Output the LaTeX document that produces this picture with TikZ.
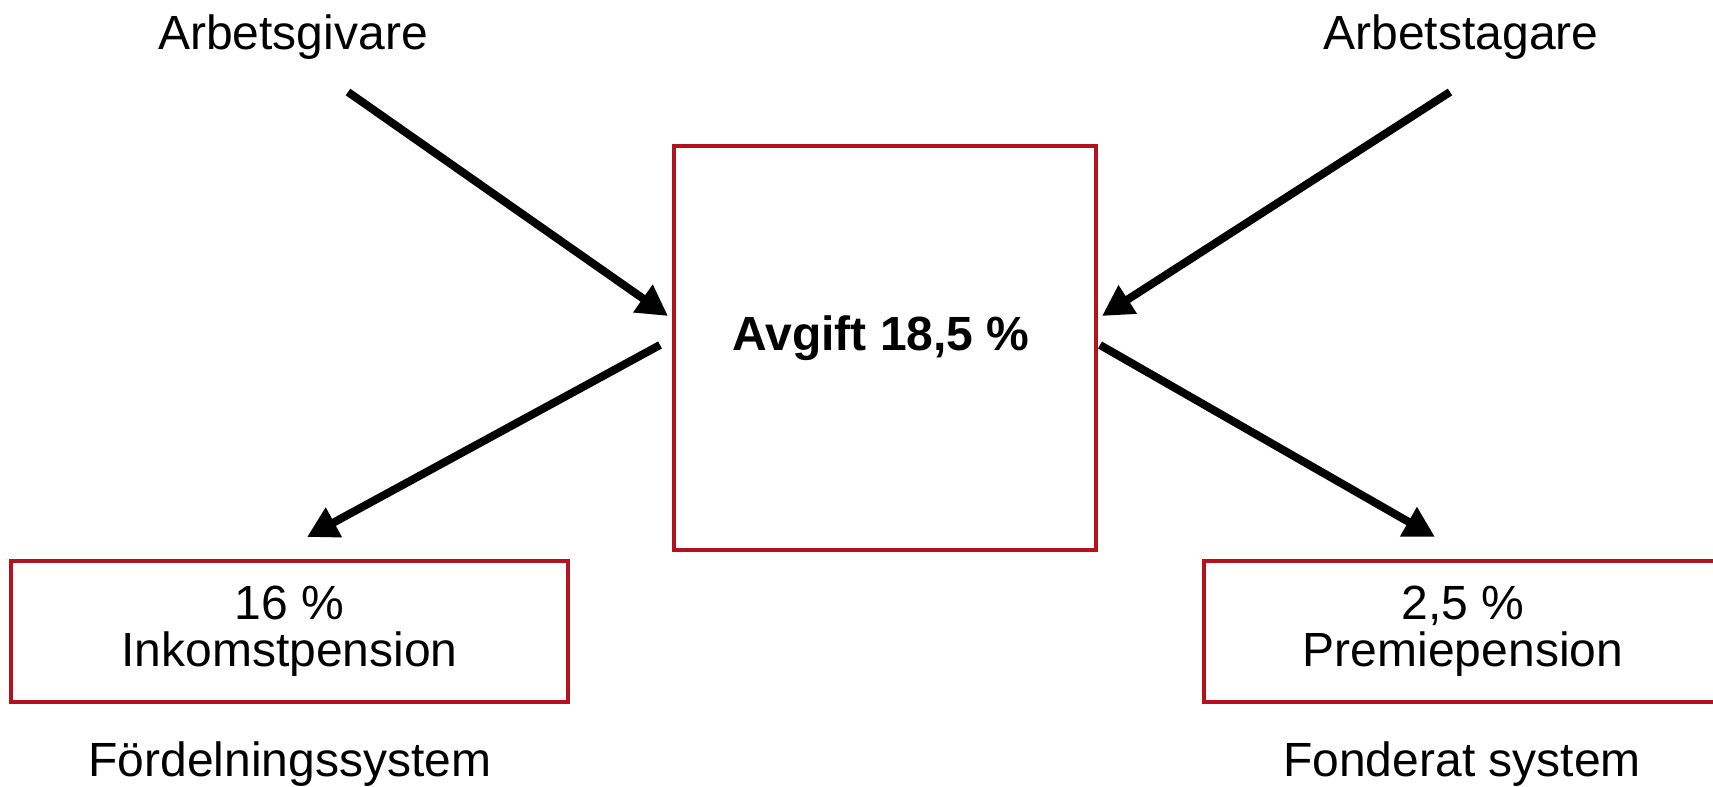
\documentclass[tikz,border=0pt]{standalone}
\usepackage{fontspec}
\setmainfont{Liberation Sans}
\usetikzlibrary{arrows.meta}
\definecolor{boxred}{RGB}{180,18,30}
\begin{document}
\begin{tikzpicture}[x=0.75pt,y=-0.75pt,
  txt/.style={font=\fontsize{36pt}{35pt}\selectfont},
  lbl/.style={txt, inner sep=0pt, anchor=base},
  redbox/.style={draw=boxred, line width=3pt, inner sep=0pt, align=center, txt},
  flow/.style={line width=6pt, -{Triangle[length=23pt,width=24pt]}}]
\useasboundingbox (0,0) rectangle (1713,786);
% boxes
\node[redbox, minimum width=316.5pt, minimum height=303pt] (mid) at (885,348) {};
\node[lbl, font=\fontsize{36pt}{35pt}\selectfont\bfseries] (midtext) at (881,350) {Avgift 18,5 \%};
\node[redbox, minimum width=417.75pt, minimum height=105.75pt] (inkomst) at (289.5,631.5) {16 \%\\Inkomstpension};
\node[redbox, minimum width=388.5pt, minimum height=105.75pt] (premie) at (1463,631.5) {2,5 \%\\Premiepension};
% labels
\node[lbl] (givare) at (293,49) {Arbetsgivare};
\node[lbl] (tagare) at (1461,49) {Arbetstagare};
\node[lbl] (ford) at (290,776) {Fördelningssystem};
\node[lbl] (fond) at (1462,776) {Fonderat system};
% connector ends
\coordinate (t1) at (348,92);
\coordinate (h1) at (668,316);
\coordinate (t2) at (1450,92);
\coordinate (h2) at (1102,316);
\coordinate (t3) at (660,345);
\coordinate (h3) at (307,537);
\coordinate (t4) at (1100,345);
\coordinate (h4) at (1435,537);
\draw[flow] (t1) -- (h1);
\draw[flow] (t2) -- (h2);
\draw[flow] (t3) -- (h3);
\draw[flow] (t4) -- (h4);
\end{tikzpicture}
\end{document}
